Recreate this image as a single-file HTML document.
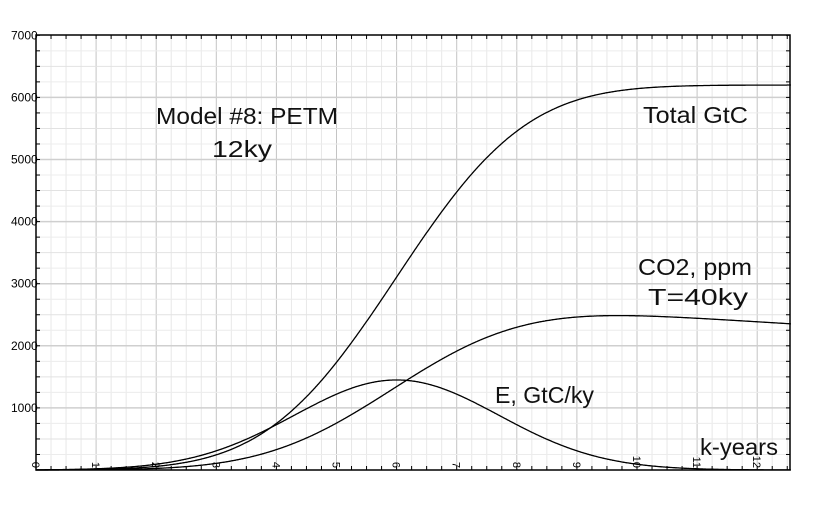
<!DOCTYPE html>
<html><head><meta charset="utf-8"><style>
html,body{margin:0;padding:0;background:#fff;}
svg{display:block;}
text{font-family:"Liberation Sans",sans-serif;}
</style></head><body>
<svg id="s" width="826" height="506" xmlns="http://www.w3.org/2000/svg">
<g id="grid"></g>
<g id="curves" fill="none" stroke="#000" stroke-width="1.3"></g>
<g id="axes"></g>
<g font-size="23" fill="#111">
<text x="156" y="124" textLength="182" lengthAdjust="spacingAndGlyphs">Model #8: PETM</text>
<text x="212" y="157" textLength="60" lengthAdjust="spacingAndGlyphs">12ky</text>
<text x="643" y="123" textLength="105" lengthAdjust="spacingAndGlyphs">Total GtC</text>
<text x="638" y="275" textLength="114" lengthAdjust="spacingAndGlyphs">CO2, ppm</text>
<text x="648" y="305" textLength="100" lengthAdjust="spacingAndGlyphs">Τ=40ky</text>
<text x="495" y="403" textLength="99" lengthAdjust="spacingAndGlyphs">E, GtC/ky</text>
<text x="700" y="455" textLength="78" lengthAdjust="spacingAndGlyphs">k-years</text>
</g>
</svg>
<script>
var L=36,R=790,T=35,B=470,px=60.1,py=0.0621;
function X(t){return L+t*px;} function Y(v){return B-v*py;}
var ns="http://www.w3.org/2000/svg",g=document.getElementById('grid'),a=document.getElementById('axes'),c=document.getElementById('curves');
function el(p,tag,at,txt){var e=document.createElementNS(ns,tag);for(var k in at)e.setAttribute(k,at[k]);if(txt!=null)e.textContent=txt;p.appendChild(e);return e;}
for(var i=1;i*0.25*px+L<R;i++){var x=L+i*0.25*px;el(g,'line',{x1:x,x2:x,y1:T,y2:B,stroke:i%4==0?'#c4c4c4':'#e8e8e8','stroke-width':1});}
for(var i=1;i<28;i++){var y=B-i*250*py;el(g,'line',{x1:L,x2:R,y1:y,y2:y,stroke:i%4==0?'#cfcfcf':(i%2==0?'#e2e2e2':'#ececec'),'stroke-width':i%4==0?1.5:1});}
el(a,'rect',{x:L,y:T,width:R-L,height:B-T,fill:'none',stroke:'#000','stroke-width':1.5});
for(var i=0;i<=28;i++){var y=B-i*250*py;el(a,'line',{x1:L,x2:L+4,y1:y,y2:y,stroke:'#000'});el(a,'line',{x1:R-4,x2:R,y1:y,y2:y,stroke:'#000'});}
for(var i=0;i*0.25*px+L<R;i++){var x=L+i*0.25*px;el(a,'line',{x1:x,x2:x,y1:B-4,y2:B,stroke:'#000'});el(a,'line',{x1:x,x2:x,y1:T,y2:T+4,stroke:'#000'});}
for(var k=1;k<=7;k++){el(a,'text',{x:11,y:B-k*1000*py+4,'font-size':12,fill:'#000'},String(k*1000));}
for(var k=0;k<=12;k++){var x=X(k);el(a,'text',{x:0,y:0,'font-size':11,fill:'#000',transform:'translate('+(x-4)+','+(B-2)+') rotate(90)','text-anchor':'end'},String(k));}
var s=1.706,dt=0.01,E=[],Tot=[],C=[],cum=0,co=0;
for(var t=0;t<=12.56;t+=dt){var e=1450*Math.exp(-(t-6)*(t-6)/(2*s*s));cum+=e*dt;co=co*Math.exp(-dt/40)+e*dt;E.push([t,e]);Tot.push([t,cum]);C.push([t,co*0.447]);}
function path(arr){var d='';arr.forEach(function(p,i){d+=(i?'L':'M')+X(p[0]).toFixed(1)+','+Y(p[1]).toFixed(1);});el(c,'path',{d:d});}
path(E);path(Tot);path(C);
</script>
</body></html>
